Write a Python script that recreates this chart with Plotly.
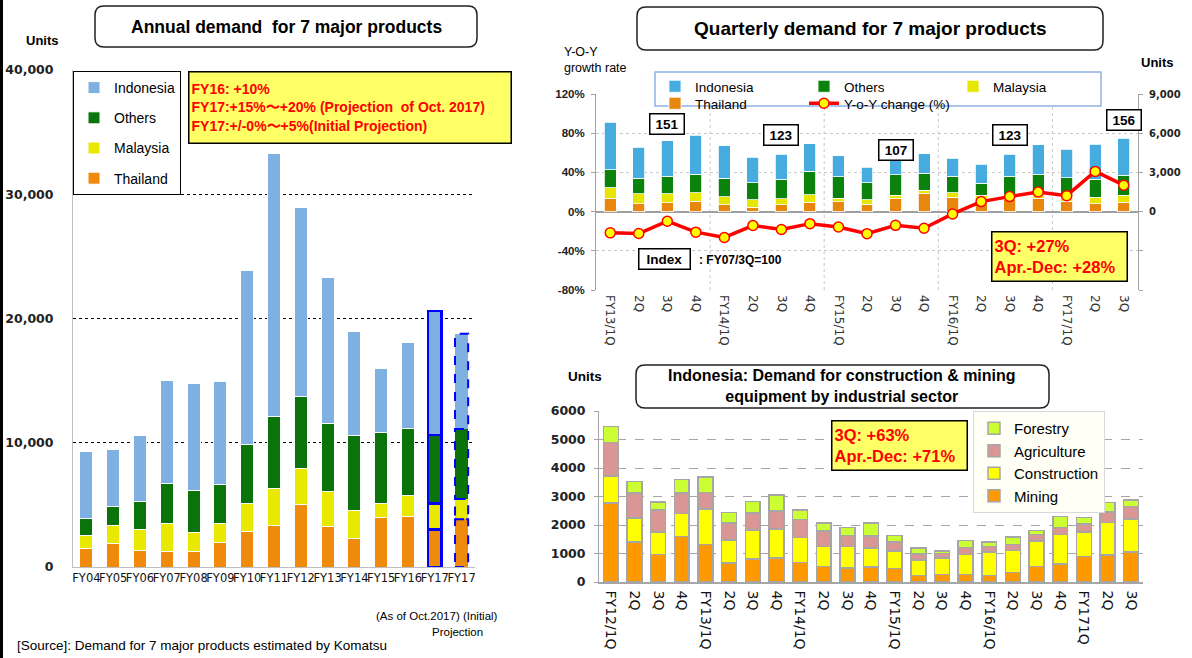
import plotly.graph_objects as go

W, H = 1192, 658


def px(x):
    return x / W


def py(y):
    return 1 - y / H


ARIAL = "Liberation Sans, Arial, sans-serif"
WIDE = "DejaVu Sans, Verdana, sans-serif"

# ---------------- Annual demand (units) ----------------
annual_years = ["FY04", "FY05", "FY06", "FY07", "FY08", "FY09", "FY10", "FY11",
                "FY12", "FY13", "FY14", "FY15", "FY16", "FY17", "FY17"]
annual_thailand = [1520, 1870, 1360, 1280, 1260, 1950, 2860, 3340, 5000, 3290, 2330, 3960, 4040, 3020, 3850]
annual_malaysia = [1020, 1450, 1640, 2250, 1550, 1530, 2270, 2940, 2910, 2810, 2220, 1120, 1710, 2110, 1630]
annual_others = [1340, 1570, 2270, 3210, 3310, 3120, 4740, 5860, 5780, 5450, 6010, 5720, 5400, 5480, 5620]
annual_indonesia = [5450, 4580, 5320, 8290, 8670, 8320, 13970, 21160, 15280, 11750, 8380, 5150, 6900, 9990, 7680]
annual_ticks = [0, 10000, 20000, 30000, 40000]

# ---------------- Quarterly demand (units) + YoY (%) ----------------
q_labels = ["FY13/1Q", "2Q", "3Q", "4Q", "FY14/1Q", "2Q", "3Q", "4Q", "FY15/1Q", "2Q",
            "3Q", "4Q", "FY16/1Q", "2Q", "3Q", "4Q", "FY17/1Q", "2Q", "3Q"]
q_thailand = [1020, 610, 690, 810, 510, 330, 510, 730, 760, 570, 970, 1360, 1110, 780, 960, 1030, 780, 600, 730]
q_malaysia = [790, 740, 680, 640, 630, 590, 480, 550, 260, 320, 280, 280, 350, 480, 330, 380, 380, 480, 510]
q_others = [1390, 1220, 1330, 1420, 1430, 1270, 1500, 1820, 1640, 1330, 1570, 1280, 1260, 910, 1430, 1460, 1440, 1390, 1550]
q_indonesia = [3640, 2360, 2740, 2980, 2460, 1980, 1910, 2090, 1620, 1170, 1090, 1520, 1360, 1460, 1670, 2250, 2190, 2700, 2820]
q_yoy = [-21.7, -22.4, -9.8, -21.0, -26.4, -14.2, -18.3, -12.3, -15.7, -22.5,
         -14.0, -17.0, -2.4, 10.2, 15.3, 20.0, 16.3, 41.0, 27.0]
pct_ticks = [-80, -40, 0, 40, 80, 120]
unit_ticks = [-6000, -3000, 0, 3000, 6000, 9000]
index_values = ["151", "123", "107", "123", "156"]   # FY07/3Q = 100
index_quarters = [2, 6, 10, 14, 18]

# ---------------- Indonesia by sector (units) ----------------
s_labels = ["FY12/1Q", "2Q", "3Q", "4Q", "FY13/1Q", "2Q", "3Q", "4Q", "FY14/1Q", "2Q", "3Q", "4Q",
            "FY15/1Q", "2Q", "3Q", "4Q", "FY16/1Q", "2Q", "3Q", "4Q", "FY171Q", "2Q", "3Q"]
s_mining = [2770, 1400, 970, 1600, 1310, 670, 810, 840, 680, 550, 500, 530,
            470, 230, 260, 270, 220, 340, 540, 640, 900, 950, 1060]
s_construction = [950, 840, 780, 800, 1250, 800, 1020, 1020, 880, 690, 750, 670,
                  620, 550, 580, 700, 830, 760, 900, 1020, 850, 1140, 1150]
s_agriculture = [1170, 880, 770, 720, 580, 600, 590, 640, 630, 550, 380, 420,
                 310, 210, 160, 240, 200, 210, 220, 250, 280, 370, 440]
s_forestry = [560, 400, 290, 480, 540, 370, 400, 560, 340, 280, 280, 450,
              230, 200, 90, 250, 150, 270, 140, 390, 230, 330, 230]

fig = go.Figure()

# ---- annual stacked bars ----
ax = list(range(len(annual_years)))
BW_A = 0.49
n_a = len(annual_years)
line_col_a = ["white"] * (n_a - 2) + ["#0000FF", "rgba(0,0,0,0)"]
line_w_a = [1] * (n_a - 2) + [2.5, 0]
for name, vals, col, rank in [("Thailand", annual_thailand, "#F08A0C", 4),
                              ("Malaysia", annual_malaysia, "#E8E800", 3),
                              ("Others", annual_others, "#0A730A", 2),
                              ("Indonesia", annual_indonesia, "#7FB0E2", 1)]:
    fig.add_trace(go.Bar(x=ax, y=vals, name=name, width=BW_A, xaxis="x", yaxis="y",
                         marker=dict(color=col, line=dict(color=line_col_a, width=line_w_a)),
                         legend="legend", legendrank=rank, legendgroup="a" + name))

# dashed outline for the initial FY17 projection, built from the same data
last = n_a - 1
cum = 0
for vals in [annual_thailand, annual_malaysia, annual_others, annual_indonesia]:
    fig.add_shape(type="rect", xref="x", yref="y", x0=last - BW_A / 2, x1=last + BW_A / 2,
                  y0=cum, y1=cum + vals[last], line=dict(color="#0000FF", width=2, dash="dash"))
    cum += vals[last]

# ---- quarterly stacked bars + YoY line ----
qx = list(range(len(q_labels)))
for name, vals, col, rank, leg in [("Thailand", q_thailand, "#E8870E", 4, "legend4"),
                                   ("Malaysia", q_malaysia, "#E6E600", 3, "legend2"),
                                   ("Others", q_others, "#0B820B", 2, "legend2"),
                                   ("Indonesia", q_indonesia, "#46ACE0", 1, "legend2")]:
    fig.add_trace(go.Bar(x=qx, y=vals, name=name, width=0.42, xaxis="x2", yaxis="y2",
                         marker=dict(color=col, line=dict(color="white", width=0.8)),
                         legend=leg, legendrank=rank))
fig.add_trace(go.Scatter(x=qx, y=q_yoy, name="Y-o-Y change (%)", xaxis="x2", yaxis="y3",
                         mode="lines+markers", legend="legend4", legendrank=5,
                         line=dict(color="#FF0000", width=3.5),
                         marker=dict(size=10, color="#FFFF00", line=dict(color="#FF0000", width=1.5))))

# ---- sector stacked bars ----
sx = list(range(len(s_labels)))
for name, vals, col, rank in [("Mining", s_mining, "#FF9900", 4),
                              ("Construction", s_construction, "#FFFF00", 3),
                              ("Agriculture", s_agriculture, "#DA9694", 2),
                              ("Forestry", s_forestry, "#CCFF33", 1)]:
    fig.add_trace(go.Bar(x=sx, y=vals, name=name, width=0.63, xaxis="x3", yaxis="y4",
                         marker=dict(color=col, line=dict(color="#A6A6A6", width=1.5)),
                         legend="legend3", legendrank=rank))

# ---------------- frames, titles, boxes ----------------


def rounded_box(x0, y0, x1, y1, r=9):
    pts = [
        f"M{px(x0 + r)},{py(y0)}", f"L{px(x1 - r)},{py(y0)}", f"Q{px(x1)},{py(y0)} {px(x1)},{py(y0 + r)}",
        f"L{px(x1)},{py(y1 - r)}", f"Q{px(x1)},{py(y1)} {px(x1 - r)},{py(y1)}",
        f"L{px(x0 + r)},{py(y1)}", f"Q{px(x0)},{py(y1)} {px(x0)},{py(y1 - r)}",
        f"L{px(x0)},{py(y0 + r)}", f"Q{px(x0)},{py(y0)} {px(x0 + r)},{py(y0)}", "Z"]
    return dict(type="path", xref="paper", yref="paper", path=" ".join(pts),
                fillcolor="white", line=dict(color="#222", width=1.5), layer="above")


shapes = [rounded_box(95, 6, 477, 47), rounded_box(637, 7, 1103, 50), rounded_box(636, 365, 1049, 408),
          dict(type="line", xref="paper", yref="paper", x0=px(1.5), x1=px(1.5), y0=0, y1=1,
               line=dict(color="black", width=3)),
          # frame of the quarterly legend
          dict(type="rect", xref="paper", yref="paper", x0=px(655), x1=px(1101), y0=py(106), y1=py(72),
               fillcolor="white", line=dict(color="#8DB3E2", width=1.5), layer="above")]
# fiscal-year boundaries in the quarterly chart
for b in [3.5, 7.5, 11.5, 15.5]:
    shapes.append(dict(type="line", xref="x2", yref="y2 domain", x0=b, x1=b, y0=0, y1=1,
                       line=dict(color="#C8C8C8", width=1, dash="dot"), layer="below"))
for s in shapes:
    fig.add_shape(**s)

ann = []


def text(x, y, t, size, family=ARIAL, weight="normal", color="black", xanchor="center",
         yanchor="middle", align="center"):
    ann.append(dict(xref="paper", yref="paper", x=px(x), y=py(y), text=t, showarrow=False,
                    xanchor=xanchor, yanchor=yanchor, align=align,
                    font=dict(family=family, size=size, weight=weight, color=color)))


def box(x0, y0, x1, y1, t, size, color="#FF0000", bg="#FFFF66", weight="bold", family=ARIAL,
        align="left", bw=1.5):
    ann.append(dict(xref="paper", yref="paper", x=px(x0), y=py(y0), xanchor="left", yanchor="top",
                    width=x1 - x0 - 2 * bw - 4, height=y1 - y0 - 2 * bw - 4, text=t, showarrow=False,
                    align=align, valign="middle", bgcolor=bg, bordercolor="black", borderwidth=bw,
                    borderpad=2, font=dict(family=family, size=size, weight=weight, color=color)))


text(286, 27, "Annual demand  for 7 major products", 17.5, weight="bold")
text(870, 29, "Quarterly demand for 7 major products", 19, weight="bold")
text(842, 386, "Indonesia: Demand for construction &amp; mining<br>equipment by industrial sector", 16,
     weight="bold")

text(42, 40, "Units", 13, weight="bold")
text(1157, 62, "Units", 13, weight="bold")
text(585, 376, "Units", 13.5, weight="bold")
text(562, 60, "Y-O-Y<br>growth rate", 12.5, xanchor="left", align="left")

box(188, 71, 512, 144,
    "FY16: +10%<br>FY17:+15%〜+20% (Projection  of Oct. 2017)<br>FY17:+/-0%〜+5%(Initial Projection)",
    14)
box(991, 231, 1128, 282, "3Q: +27%<br>Apr.-Dec: +28%", 16.5)
box(831, 420, 968, 471, "3Q: +63%<br>Apr.-Dec: +71%", 16.5)
box(638, 248, 691, 270, "Index", 13.5, color="black", bg="white", align="center")
text(697, 260, ": FY07/3Q=100", 12, weight="bold", xanchor="left")

text(437, 616, "(As of Oct.2017) (Initial)", 11.5)
text(457, 632, "Projection", 11.5)
text(15, 645, "[Source]: Demand for 7 major products estimated by Komatsu", 13.5, xanchor="left")

for q, v, yv in zip(index_quarters, index_values, [89, 78, 63, 78, 93]):
    ann.append(dict(xref="x2", yref="y3", x=q, y=yv, text=v, showarrow=False, width=31, height=17,
                    bgcolor="white", bordercolor="black", borderwidth=1.5, borderpad=1,
                    font=dict(family=ARIAL, size=13.5, weight="bold", color="black")))

fig.update_layout(annotations=ann)

q_legend = dict(xanchor="left", yanchor="top", orientation="h", entrywidth=104,
                bgcolor="rgba(0,0,0,0)", borderwidth=0, traceorder="normal",
                font=dict(family=ARIAL, size=13.5, color="black"))

fig.update_layout(
    width=W, height=H, margin=dict(l=0, r=0, t=0, b=0, autoexpand=False),
    paper_bgcolor="white", plot_bgcolor="white", barmode="stack", showlegend=True,
    xaxis=dict(domain=[px(73), px(475)], anchor="y", range=[-0.5, n_a - 0.5],
               tickvals=ax, ticktext=annual_years, tickangle=0, showline=True, linecolor="#BFBFBF",
               showgrid=False, zeroline=False,
               tickfont=dict(family=WIDE, size=11.5, color="#111")),
    yaxis=dict(domain=[py(567), py(70)], anchor="x", range=[0, 40000], tickvals=annual_ticks,
               ticktext=[f"{v:,}" for v in annual_ticks], showgrid=True, gridcolor="black",
               griddash="dot", gridwidth=1, zeroline=False, showline=True, linecolor="#BFBFBF",
               ticklabelstandoff=16,
               tickfont=dict(family=WIDE, size=12.5, weight="bold", color="#222")),
    xaxis2=dict(domain=[px(596), px(1138)], anchor="y2", range=[-0.5, len(q_labels) - 0.5],
                tickvals=qx, ticktext=q_labels, tickangle=90, showgrid=False, zeroline=False,
                ticklabelstandoff=4,
                tickfont=dict(family=WIDE, size=12, color="#333")),
    yaxis2=dict(domain=[py(290), py(94)], anchor="x2", side="right", range=[-6000, 9000],
                tickvals=unit_ticks, ticktext=["" if v < 0 else f"{v:,}" for v in unit_ticks],
                showgrid=True, gridcolor="#C8C8C8", griddash="dot", gridwidth=1,
                zeroline=True, zerolinecolor="#A0A0A0", zerolinewidth=1.5,
                showline=True, linecolor="#A0A0A0", ticks="outside", ticklen=4, tickcolor="#A0A0A0",
                ticklabelstandoff=4,
                tickfont=dict(family=WIDE, size=10, weight="bold", color="#222")),
    yaxis3=dict(overlaying="y2", anchor="x2", side="left", range=[-80, 120],
                tickvals=pct_ticks, ticktext=[f"{v}%" for v in pct_ticks], showgrid=False,
                zeroline=False, showline=True, linecolor="#A0A0A0", ticks="outside", ticklen=4,
                tickcolor="#A0A0A0", ticklabelstandoff=4,
                tickfont=dict(family=ARIAL, size=11.5, weight="bold", color="#222")),
    xaxis3=dict(domain=[px(599), px(1143)], anchor="y4", range=[-0.5, len(s_labels) - 0.5],
                tickvals=sx, ticktext=s_labels, tickangle=90, showline=True, linecolor="#A6A6A6",
                linewidth=1.5, showgrid=False, zeroline=False, ticklabelstandoff=4,
                tickfont=dict(family=WIDE, size=14, color="#111")),
    yaxis4=dict(domain=[py(582), py(411)], anchor="x3", range=[0, 6000], dtick=1000,
                showgrid=True, gridcolor="#A6A6A6", griddash="dash", gridwidth=1, zeroline=False,
                showline=True, linecolor="#A6A6A6", ticks="outside", ticklen=4, tickcolor="#A6A6A6",
                ticklabelstandoff=6,
                tickfont=dict(family=WIDE, size=12.5, weight="bold", color="#222")),
    legend=dict(x=px(73), y=py(71), xanchor="left", yanchor="top", bgcolor="white",
                bordercolor="black", borderwidth=1, traceorder="grouped", tracegroupgap=9,
                font=dict(family=ARIAL, size=14, color="black")),
    legend2=dict(x=px(655), y=py(71), **q_legend),
    legend4=dict(x=px(655), y=py(88), **q_legend),
    legend3=dict(x=px(973), y=py(411), xanchor="left", yanchor="top", bgcolor="#FFFFF5",
                 bordercolor="#D9D9D9", borderwidth=1, traceorder="normal",
                 font=dict(family=ARIAL, size=15, color="black")),
)

fig.write_html("out.html")
